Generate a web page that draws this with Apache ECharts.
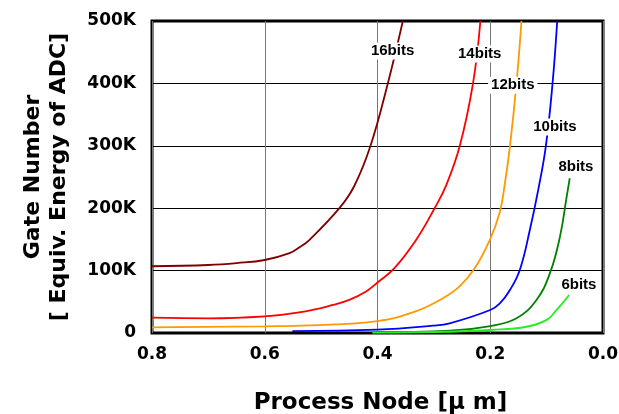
<!DOCTYPE html>
<html>
<head>
<meta charset="utf-8">
<script src="https://cdn.jsdelivr.net/npm/echarts@6/dist/echarts.min.js"></script>
<style>
html,body{margin:0;padding:0;background:#fff;}
#chart{width:619px;height:414px;}
</style>
</head>
<body>
<div id="chart"></div>
<script>
// Process node [um] vs gate number, per ADC resolution
const bits16 = [[0.8,107000],[0.7,109000],[0.65,112000],[0.6,117000],[0.556,128000],[0.539,137000],[0.521,149000],[0.4676,200000],[0.441,236000],[0.4124,300000],[0.3817,400000],[0.355,500000]];
const bits14 = [[0.8,24500],[0.7,23500],[0.6,26700],[0.539,33000],[0.479,44900],[0.45,53000],[0.421,66000],[0.4,81000],[0.37,104000],[0.331,150000],[0.2987,200000],[0.278,237000],[0.254,300000],[0.2306,400000],[0.2175,500000]];
const bits12 = [[0.8,9000],[0.6,10700],[0.521,12300],[0.4,19200],[0.331,35000],[0.284,55600],[0.254,75000],[0.2276,103700],[0.2009,149000],[0.183,194000],[0.174,240000],[0.165,300000],[0.1534,400000],[0.1446,500000]];
const bits10 = [[0.551,3000],[0.4,5300],[0.3017,11700],[0.272,15500],[0.2,36900],[0.183,47600],[0.165,69000],[0.1476,101000],[0.1298,165000],[0.115,229000],[0.1013,300000],[0.0895,400000],[0.0812,500000]];
const bits8 = [[0.409,1000],[0.272,3700],[0.2,11200],[0.1534,23500],[0.118,53000],[0.0942,95700],[0.0764,154000],[0.0645,218000],[0.059,248000]];
const bits6 = [[0.409,500],[0.272,2000],[0.2,4800],[0.1357,10000],[0.1,21000],[0.0823,37000],[0.06,61000]];

const seriesNames = ['16bits','14bits','12bits','10bits','8bits','6bits'];
const seriesData = [bits16, bits14, bits12, bits10, bits8, bits6];
const seriesColors = ['#800000','#ff0000','#ff9900','#0000ff','#008000','#22ee22'];

// label anchor points (data coordinates)
const labelX = [0.3733, 0.2187, 0.160, 0.0853, 0.048, 0.0427];
const labelY = [452000, 447000, 397000, 330000, 266000, 77000];

const yTicks = ['0','100K','200K','300K','400K','500K'];

const FONT = 'DejaVu Sans';
const chart = echarts.init(document.getElementById('chart'));

const series = seriesData.map((d, i) => ({
  name: seriesNames[i],
  type: 'line',
  data: d,
  smooth: 0.42,
  symbol: 'none',
  lineStyle: {color: seriesColors[i], width: 1.8},
  z: 3
}));

series.push({
  type: 'scatter',
  symbolSize: 1,
  itemStyle: {opacity: 0},
  z: 10,
  data: seriesNames.map((n, i) => ({name: n, value: [labelX[i], labelY[i]]})),
  label: {
    show: true,
    position: 'inside',
    formatter: p => p.name,
    fontFamily: 'Liberation Sans',
    fontWeight: 'bold',
    fontSize: 15,
    color: '#000',
    opacity: 1,
    textBorderWidth: 0,
    backgroundColor: '#fff',
    padding: [1, 3]
  },
  silent: true
});

chart.setOption({
  animation: false,
  backgroundColor: '#fff',
  grid: {left: 152, right: 16, top: 21, bottom: 81, containLabel: false, outerBoundsMode: 'none', show: true, borderColor: '#000', borderWidth: 3, backgroundColor: 'transparent'},
  xAxis: {
    type: 'value', min: 0, max: 0.8, interval: 0.2, inverse: true,
    name: 'Process Node [\u03bc m]',
    nameLocation: 'middle', nameGap: 59,
    nameTextStyle: {fontFamily: FONT, fontWeight: 'bold', fontSize: 23, color: '#000', padding: [0, 0, 0, 6]},
    axisLine: {show: false},
    axisTick: {show: false},
    axisLabel: {formatter: v => v.toFixed(1), fontFamily: FONT, fontWeight: 'bold', fontSize: 17, color: '#000', margin: 13},
    splitLine: {show: true, lineStyle: {color: '#777', width: 1}}
  },
  yAxis: {
    type: 'value', min: 0, max: 500000, interval: 100000,
    name: 'Gate Number\n[ Equiv. Energy of ADC]',
    nameLocation: 'middle', nameGap: 80,
    nameTextStyle: {fontFamily: FONT, fontWeight: 'bold', fontSize: 22, color: '#000', lineHeight: 26},
    axisLine: {show: false},
    axisTick: {show: false},
    axisLabel: {formatter: (v, idx) => yTicks[idx], fontFamily: FONT, fontWeight: 'bold', fontSize: 17, color: '#000', margin: 16},
    splitLine: {show: true, lineStyle: {color: '#000', width: 1}}
  },
  series: series
});
</script>
</body>
</html>
